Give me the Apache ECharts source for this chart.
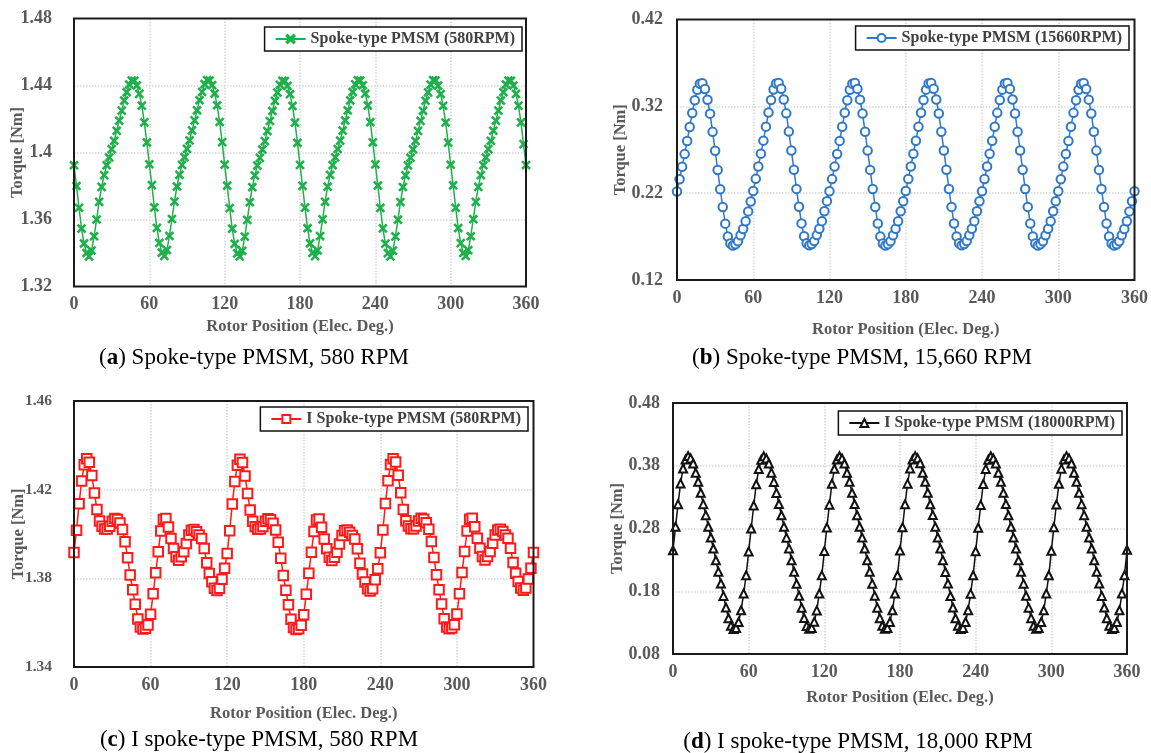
<!DOCTYPE html>
<html><head><meta charset="utf-8">
<script src="https://cdn.jsdelivr.net/npm/echarts@6/dist/echarts.min.js"></script>
<style>html,body{margin:0;padding:0;background:#fff}#c{width:1151px;height:753px}</style>
</head><body><div id="c"></div>
<script>
const angles = [0,2,4,6,8,10,12,14,16,18,20,22,24,26,28,30,32,34,36,38,40,42,44,46,48,50,52,54,56,58,
60,62,64,66,68,70,72,74,76,78,80,82,84,86,88,90,92,94,96,98,100,102,104,106,108,110,112,114,116,118,
120,122,124,126,128,130,132,134,136,138,140,142,144,146,148,150,152,154,156,158,160,162,164,166,168,170,172,174,176,178,
180,182,184,186,188,190,192,194,196,198,200,202,204,206,208,210,212,214,216,218,220,222,224,226,228,230,232,234,236,238,
240,242,244,246,248,250,252,254,256,258,260,262,264,266,268,270,272,274,276,278,280,282,284,286,288,290,292,294,296,298,
300,302,304,306,308,310,312,314,316,318,320,322,324,326,328,330,332,334,336,338,340,342,344,346,348,350,352,354,356,358,360];

const xTicks = [0,60,120,180,240,300,360];
const yTicksA = [1.32,1.36,1.40,1.44,1.48];
const yTicksB = [0.12,0.22,0.32,0.42];
const yTicksC = [1.34,1.38,1.42,1.46];
const yTicksD = [0.08,0.18,0.28,0.38,0.48];

const torqueA = [
1.3924,1.3800,1.3670,1.3546,1.3457,1.3400,1.3380,1.3415,1.3500,1.3600,1.3705,1.3795,1.3865,1.3924,1.3970,1.4020,1.4070,1.4130,1.4190,1.4250,1.4310,1.4360,1.4406,1.4430,1.4428,1.4400,1.4350,1.4280,1.4180,1.4060,
1.3930,1.3805,1.3672,1.3550,1.3460,1.3402,1.3383,1.3418,1.3502,1.3603,1.3707,1.3797,1.3867,1.3926,1.3972,1.4022,1.4072,1.4132,1.4192,1.4252,1.4312,1.4362,1.4408,1.4432,1.4430,1.4402,1.4352,1.4282,1.4182,1.4062,
1.3928,1.3802,1.3668,1.3545,1.3455,1.3398,1.3379,1.3413,1.3498,1.3598,1.3703,1.3793,1.3863,1.3922,1.3968,1.4018,1.4068,1.4128,1.4188,1.4248,1.4308,1.4358,1.4404,1.4428,1.4426,1.4398,1.4348,1.4278,1.4178,1.4058,
1.3926,1.3801,1.3671,1.3548,1.3458,1.3401,1.3381,1.3416,1.3501,1.3601,1.3706,1.3796,1.3866,1.3925,1.3971,1.4021,1.4071,1.4131,1.4191,1.4251,1.4311,1.4361,1.4407,1.4431,1.4429,1.4401,1.4351,1.4281,1.4181,1.4061,
1.3929,1.3803,1.3669,1.3547,1.3456,1.3399,1.3380,1.3414,1.3499,1.3599,1.3704,1.3794,1.3864,1.3923,1.3969,1.4019,1.4069,1.4129,1.4189,1.4249,1.4309,1.4359,1.4405,1.4432,1.4430,1.4399,1.4349,1.4279,1.4179,1.4059,
1.3927,1.3804,1.3670,1.3549,1.3459,1.3400,1.3382,1.3417,1.3500,1.3602,1.3705,1.3795,1.3865,1.3924,1.3970,1.4020,1.4070,1.4130,1.4190,1.4250,1.4310,1.4360,1.4406,1.4430,1.4428,1.4400,1.4350,1.4280,1.4180,1.4050,
1.3925];

const torqueB = [
0.2220,0.2360,0.2505,0.2650,0.2800,0.2963,0.3124,0.3270,0.3390,0.3460,0.3467,0.3400,0.3276,0.3116,0.2906,0.2689,0.2467,0.2246,0.2040,0.1849,0.1700,0.1620,0.1597,0.1612,0.1646,0.1715,0.1788,0.1876,0.1990,0.2105,
0.2225,0.2365,0.2508,0.2655,0.2805,0.2966,0.3128,0.3273,0.3393,0.3463,0.3470,0.3402,0.3279,0.3119,0.2909,0.2692,0.2470,0.2249,0.2043,0.1852,0.1703,0.1622,0.1599,0.1614,0.1648,0.1717,0.1790,0.1878,0.1992,0.2108,
0.2222,0.2362,0.2506,0.2652,0.2802,0.2964,0.3126,0.3271,0.3391,0.3461,0.3468,0.3401,0.3277,0.3117,0.2907,0.2690,0.2468,0.2247,0.2041,0.1850,0.1701,0.1621,0.1598,0.1613,0.1647,0.1716,0.1789,0.1877,0.1991,0.2106,
0.2224,0.2364,0.2507,0.2654,0.2804,0.2965,0.3127,0.3272,0.3392,0.3462,0.3469,0.3402,0.3278,0.3118,0.2908,0.2691,0.2469,0.2248,0.2042,0.1851,0.1702,0.1622,0.1599,0.1614,0.1648,0.1716,0.1790,0.1878,0.1992,0.2107,
0.2223,0.2363,0.2507,0.2653,0.2803,0.2965,0.3125,0.3272,0.3392,0.3462,0.3469,0.3401,0.3278,0.3118,0.2908,0.2691,0.2469,0.2247,0.2042,0.1851,0.1702,0.1621,0.1598,0.1613,0.1647,0.1716,0.1789,0.1877,0.1991,0.2107,
0.2222,0.2361,0.2506,0.2651,0.2801,0.2964,0.3125,0.3271,0.3391,0.3461,0.3468,0.3400,0.3277,0.3117,0.2907,0.2690,0.2468,0.2247,0.2041,0.1850,0.1701,0.1620,0.1597,0.1612,0.1646,0.1715,0.1788,0.1876,0.1990,0.2106,
0.2222];

const torqueC = [
1.3917,1.4017,1.4137,1.4239,1.4312,1.4339,1.4324,1.4264,1.4185,1.4110,1.4059,1.4035,1.4023,1.4023,1.4035,1.4058,1.4070,1.4065,1.4050,1.4020,1.3965,1.3893,1.3815,1.3748,1.3683,1.3617,1.3580,1.3571,1.3575,1.3590,
1.3638,1.3730,1.3825,1.3920,1.4013,1.4065,1.4070,1.4032,1.3980,1.3935,1.3897,1.3882,1.3897,1.3920,1.3957,1.3995,1.4017,1.4020,1.4010,1.3995,1.3980,1.3935,1.3870,1.3822,1.3785,1.3755,1.3745,1.3755,1.3796,1.3845,
1.3912,1.4015,1.4135,1.4237,1.4310,1.4337,1.4322,1.4262,1.4183,1.4108,1.4057,1.4033,1.4021,1.4022,1.4034,1.4057,1.4069,1.4064,1.4049,1.4018,1.3963,1.3891,1.3813,1.3746,1.3681,1.3615,1.3578,1.3569,1.3573,1.3588,
1.3636,1.3728,1.3823,1.3918,1.4011,1.4063,1.4068,1.4030,1.3978,1.3933,1.3895,1.3880,1.3895,1.3918,1.3955,1.3993,1.4015,1.4018,1.4008,1.3993,1.3978,1.3933,1.3868,1.3820,1.3783,1.3753,1.3743,1.3753,1.3794,1.3843,
1.3915,1.4018,1.4138,1.4240,1.4313,1.4340,1.4325,1.4265,1.4186,1.4111,1.4060,1.4036,1.4024,1.4024,1.4036,1.4059,1.4071,1.4066,1.4051,1.4021,1.3966,1.3894,1.3816,1.3749,1.3684,1.3618,1.3581,1.3572,1.3576,1.3591,
1.3639,1.3731,1.3826,1.3921,1.4014,1.4066,1.4071,1.4033,1.3981,1.3936,1.3898,1.3883,1.3898,1.3921,1.3958,1.3996,1.4018,1.4021,1.4011,1.3996,1.3981,1.3936,1.3871,1.3823,1.3786,1.3756,1.3746,1.3756,1.3797,1.3846,
1.3917];

const torqueD = [
0.2454,0.2827,0.3188,0.3518,0.3757,0.3900,0.3954,0.3917,0.3837,0.3688,0.3545,0.3369,0.3188,0.3013,0.2827,0.2656,0.2481,0.2295,0.2109,0.1922,0.1726,0.1540,0.1370,0.1250,0.1200,0.1215,0.1310,0.1497,0.1763,0.2055,
0.2432,0.2800,0.3165,0.3505,0.3748,0.3895,0.3950,0.3915,0.3835,0.3690,0.3543,0.3367,0.3190,0.3011,0.2829,0.2654,0.2483,0.2293,0.2111,0.1920,0.1728,0.1538,0.1372,0.1248,0.1202,0.1213,0.1312,0.1495,0.1765,0.2053,
0.2440,0.2815,0.3180,0.3512,0.3752,0.3898,0.3952,0.3916,0.3836,0.3689,0.3544,0.3368,0.3189,0.3012,0.2828,0.2655,0.2482,0.2294,0.2110,0.1921,0.1727,0.1539,0.1371,0.1249,0.1201,0.1214,0.1311,0.1496,0.1764,0.2054,
0.2448,0.2820,0.3185,0.3515,0.3755,0.3899,0.3953,0.3918,0.3838,0.3687,0.3546,0.3370,0.3187,0.3014,0.2826,0.2657,0.2480,0.2296,0.2108,0.1923,0.1725,0.1541,0.1369,0.1251,0.1199,0.1216,0.1309,0.1498,0.1762,0.2056,
0.2436,0.2812,0.3176,0.3510,0.3750,0.3897,0.3951,0.3916,0.3836,0.3689,0.3544,0.3368,0.3189,0.3012,0.2828,0.2655,0.2482,0.2294,0.2110,0.1921,0.1727,0.1539,0.1371,0.1249,0.1201,0.1214,0.1311,0.1496,0.1764,0.2054,
0.2444,0.2818,0.3182,0.3514,0.3754,0.3899,0.3953,0.3917,0.3837,0.3688,0.3545,0.3369,0.3188,0.3013,0.2827,0.2656,0.2481,0.2295,0.2109,0.1922,0.1726,0.1540,0.1370,0.1250,0.1200,0.1215,0.1310,0.1497,0.1763,0.2055,
0.2460];

const seriesNames = ['Spoke-type PMSM (580RPM)','Spoke-type PMSM (15660RPM)','I Spoke-type PMSM (580RPM)','I Spoke-type PMSM (18000RPM)'];
const captionLetters = ['a','b','c','d'];
const captionTexts = [') Spoke-type PMSM, 580 RPM',') Spoke-type PMSM, 15,660 RPM',') I spoke-type PMSM, 580 RPM',') I spoke-type PMSM, 18,000 RPM'];
const xTitle = 'Rotor Position (Elec. Deg.)';
const yTitle = 'Torque [Nm]';

const F = 'Liberation Serif';
const GRAY = '#595959';
const values = [torqueA, torqueB, torqueC, torqueD];
const yTicks = [yTicksA, yTicksB, yTicksC, yTicksD];
const colors = ['#1fb04c','#2f78c8','#ff1a1a','#111111'];
const symbols = ['path://M0,1.2L1.2,0L5,3.8L8.8,0L10,1.2L6.2,5L10,8.8L8.8,10L5,6.2L1.2,10L0,8.8L3.8,5Z','emptyCircle','emptyRect','emptyTriangle'];
const symbolSizes = [8, 8.5, 9.5, 8];
const grids = [
  {left:74, top:18.5, width:452, height:268},
  {left:677, top:19.5, width:458, height:260.5},
  {left:74, top:401, width:459.5, height:266},
  {left:673, top:403, width:454, height:251}
];
const xNameGap = [32, 41, 38, 35];
const yNameGap = [48, 48, 47, 47];
const yLabelMargin = [22, 14, 22, 13];
const yLabelSize = [18, 18, 15.5, 18];
const legendPos = [
  {right:629, top:27},
  {right:22, top:26},
  {right:623, top:407},
  {right:29, top:411}
];
const captionPos = [[254,358],[862,358],[259,740],[858,742]];

const option = {
  animation:false,
  backgroundColor:'#fff',
  grid: grids.map(g => Object.assign({show:true, borderColor:'#1a1a1a', borderWidth:2, backgroundColor:'rgba(0,0,0,0)', containLabel:false, z:3}, g)),
  xAxis: grids.map((g,i) => ({
    gridIndex:i, type:'value', min:xTicks[0], max:xTicks[xTicks.length-1], interval:60,
    axisLine:{show:false}, axisTick:{show:false},
    splitLine:{show:true, showMinLine:false, showMaxLine:false, lineStyle:{color:'#d6d6d6', type:'dotted', width:1.5}},
    axisLabel:{margin:9, fontFamily:F, fontWeight:'bold', fontSize:18, color:GRAY},
    name:xTitle, nameLocation:'middle', nameGap:xNameGap[i],
    nameTextStyle:{fontFamily:F, fontWeight:'bold', fontSize:16.5, color:GRAY}
  })),
  yAxis: grids.map((g,i) => ({
    gridIndex:i, type:'value', min:yTicks[i][0], max:yTicks[i][yTicks[i].length-1],
    axisLine:{show:false},
    axisTick:{show:false, customValues:yTicks[i]},
    splitLine:{show:true, showMinLine:false, showMaxLine:false, lineStyle:{color:'#d6d6d6', type:'dotted', width:1.5}},
    axisLabel:{customValues:yTicks[i], margin:yLabelMargin[i], fontFamily:F, fontWeight:'bold', fontSize:yLabelSize[i], color:GRAY},
    name:yTitle, nameLocation:'middle', nameGap:yNameGap[i], nameRotate:90, nameMoveOverlap:false,
    nameTextStyle:{fontFamily:F, fontWeight:'bold', fontSize:16.5, color:GRAY}
  })),
  legend: grids.map((g,i) => Object.assign({
    data:[seriesNames[i]], orient:'horizontal',
    backgroundColor:'#fff', borderColor:'#111', borderWidth:1.5, borderRadius:0,
    padding:[4,7,4,10], itemWidth:30, itemHeight:10, itemGap:5,
    textStyle:{fontFamily:F, fontWeight:'bold', fontSize:16, color:'#404040'}
  }, legendPos[i])),
  series: grids.map((g,i) => ({
    type:'line', name:seriesNames[i], xAxisIndex:i, yAxisIndex:i,
    data: angles.map((a,k) => [a, values[i][k]]),
    symbol:symbols[i], symbolSize:symbolSizes[i], showAllSymbol:true,
    lineStyle:{color:colors[i], width:1.5},
    itemStyle:{color:colors[i], borderColor:colors[i], borderWidth:1.2},
    emphasis:{disabled:true}, clip:false, z:2
  })),
  graphic: captionPos.map((p,i) => ({
    type:'text', x:p[0], y:p[1],
    style:{
      text:'{n|(}{b|' + captionLetters[i] + '}{n|' + captionTexts[i] + '}',
      rich:{
        n:{fontFamily:F, fontSize:23, fill:'#000'},
        b:{fontFamily:F, fontSize:23, fontWeight:'bold', fill:'#000'}
      },
      align:'center', verticalAlign:'middle'
    }
  }))
};
const chart = echarts.init(document.getElementById('c'), null, {renderer:'canvas'});
chart.setOption(option);
</script></body></html>
